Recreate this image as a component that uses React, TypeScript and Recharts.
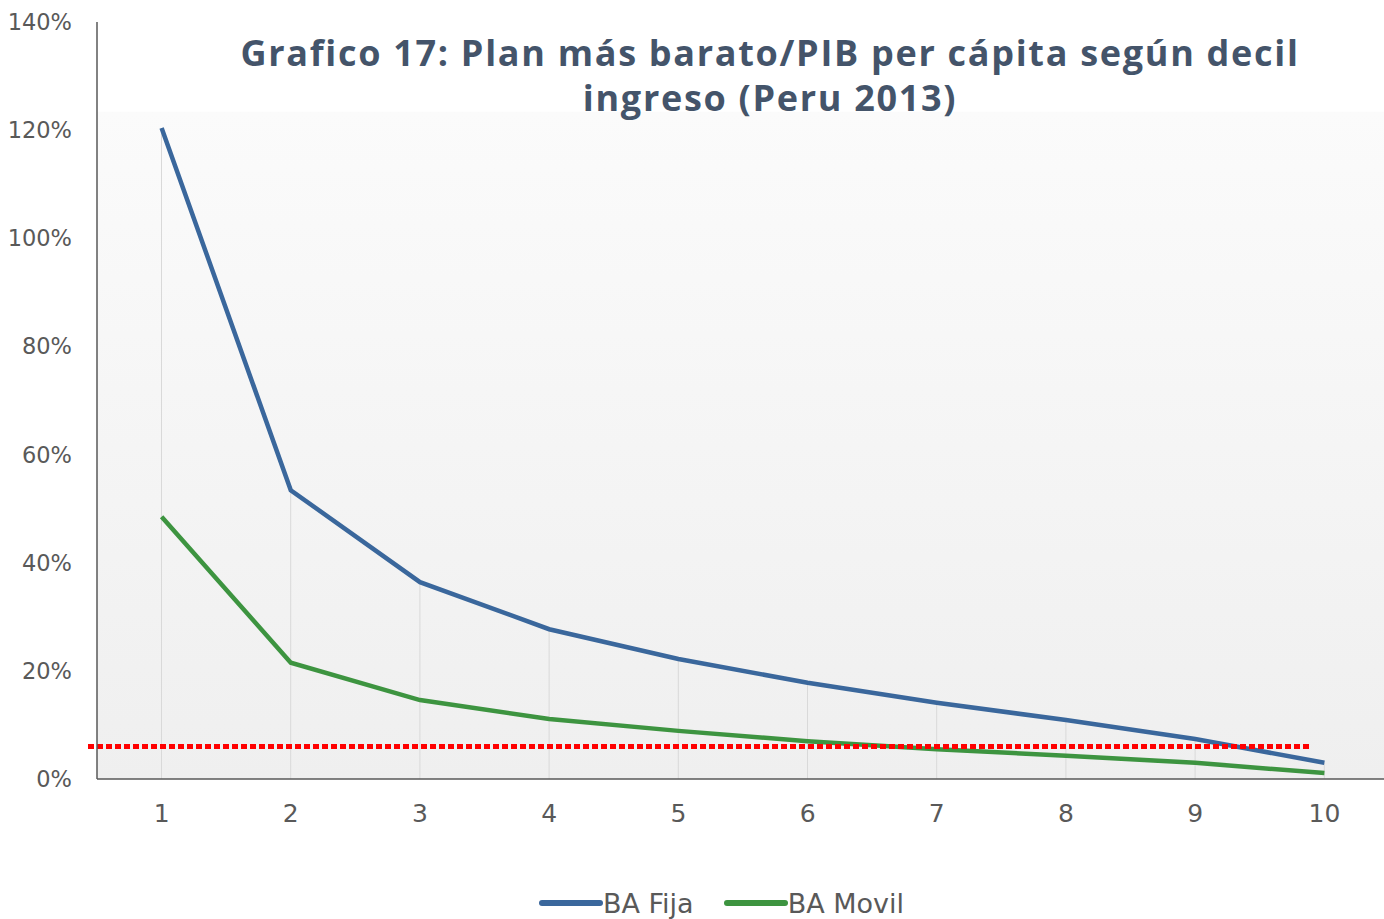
import React from 'react';
import { ComposedChart, Line, Bar, XAxis, YAxis, ReferenceLine, ReferenceArea, Legend } from 'recharts';

const deciles = ['1', '2', '3', '4', '5', '6', '7', '8', '9', '10'];
const baFija = [120.4, 53.4, 36.4, 27.7, 22.2, 17.8, 14.1, 10.9, 7.4, 3.0];
const baMovil = [48.5, 21.5, 14.6, 11.1, 8.9, 7.0, 5.5, 4.3, 3.0, 1.1];
const yTicks = [0, 20, 40, 60, 80, 100, 120, 140];
const umbral = 6;
const titleLines = ['Grafico 17: Plan más barato/PIB per cápita según decil', 'ingreso (Peru 2013)'];

const data = deciles.map((d, i) => ({ decil: d, fija: baFija[i], movil: baMovil[i], drop: baFija[i] }));

const FONT = "'DejaVu Sans', sans-serif";
const TEXT = '#595959';

const LegendContent = (props: any) => {
  const items = (props.payload || []).filter((p: any) => p.type !== 'none');
  return (
    <div style={{ display: 'flex', justifyContent: 'center', alignItems: 'center', height: 30, fontFamily: FONT, fontSize: 27, color: TEXT, paddingLeft: 54 }}>
      {items.map((p: any, i: number) => (
        <div key={i} style={{ display: 'flex', alignItems: 'center', marginRight: i === 0 ? 30 : 0 }}>
          <svg width={64} height={10} style={{ marginRight: 0 }}>
            <line x1={3} y1={5} x2={61} y2={5} stroke={p.color} strokeWidth={6} strokeLinecap="round" />
          </svg>
          <span>{p.value}</span>
        </div>
      ))}
    </div>
  );
};

export default function App() {
  return (
    <div style={{ position: 'absolute', left: 0, top: 0, width: 1384, height: 919, overflow: 'hidden', background: '#fff' }}>
      <ComposedChart width={1389} height={919} data={data} margin={{ top: 22, right: 0, left: 0, bottom: 1 }}>
        <defs>
          <linearGradient id="bgGrad" x1="0" y1="0" x2="0" y2="1">
            <stop offset="0%" stopColor="#fbfbfb" />
            <stop offset="100%" stopColor="#efefef" />
          </linearGradient>
        </defs>
        <ReferenceArea y1={0} y2={123.4} fill="url(#bgGrad)" fillOpacity={1} stroke="none" ifOverflow="hidden" />
        <XAxis dataKey="decil" height={109} tickSize={0} tickMargin={25} axisLine={{ stroke: TEXT, strokeWidth: 1.5 }}
          tick={{ fill: TEXT, fontSize: 25, fontFamily: FONT }} />
        <YAxis width={97} domain={[0, 140]} ticks={yTicks} tickSize={0} tickMargin={25} interval={0}
          tickFormatter={(v: number) => `${v}%`} axisLine={{ stroke: TEXT, strokeWidth: 1.5 }}
          tick={{ fill: TEXT, fontSize: 22.5, fontFamily: FONT }} />
        <Bar dataKey="drop" barSize={1} fill="#d9d9d9" legendType="none" isAnimationActive={false} />
        <Line dataKey="fija" name="BA Fija" stroke="#3a679c" strokeWidth={4.5} dot={false} isAnimationActive={false} />
        <Line dataKey="movil" name="BA Movil" stroke="#3d9440" strokeWidth={4.5} dot={false} isAnimationActive={false} />
        <ReferenceLine y={umbral} ifOverflow="visible"
          shape={(p: any) => (
            <line x1={p.x1 - 9} y1={p.y1} x2={p.x2 - 79} y2={p.y2} stroke="#ff0000" strokeWidth={5} strokeDasharray="6 3" />
          )} />
        <Legend verticalAlign="bottom" height={30} content={<LegendContent />} />
      </ComposedChart>
      <div style={{ position: 'absolute', left: 170, width: 1200, top: 30, textAlign: 'center', fontFamily: "'Open Sans', sans-serif", fontWeight: 700, fontSize: 36, letterSpacing: 1.7, lineHeight: '45px', color: '#44546a' }}>
        {titleLines.map((t, i) => <div key={i}>{t}</div>)}
      </div>
    </div>
  );
}
